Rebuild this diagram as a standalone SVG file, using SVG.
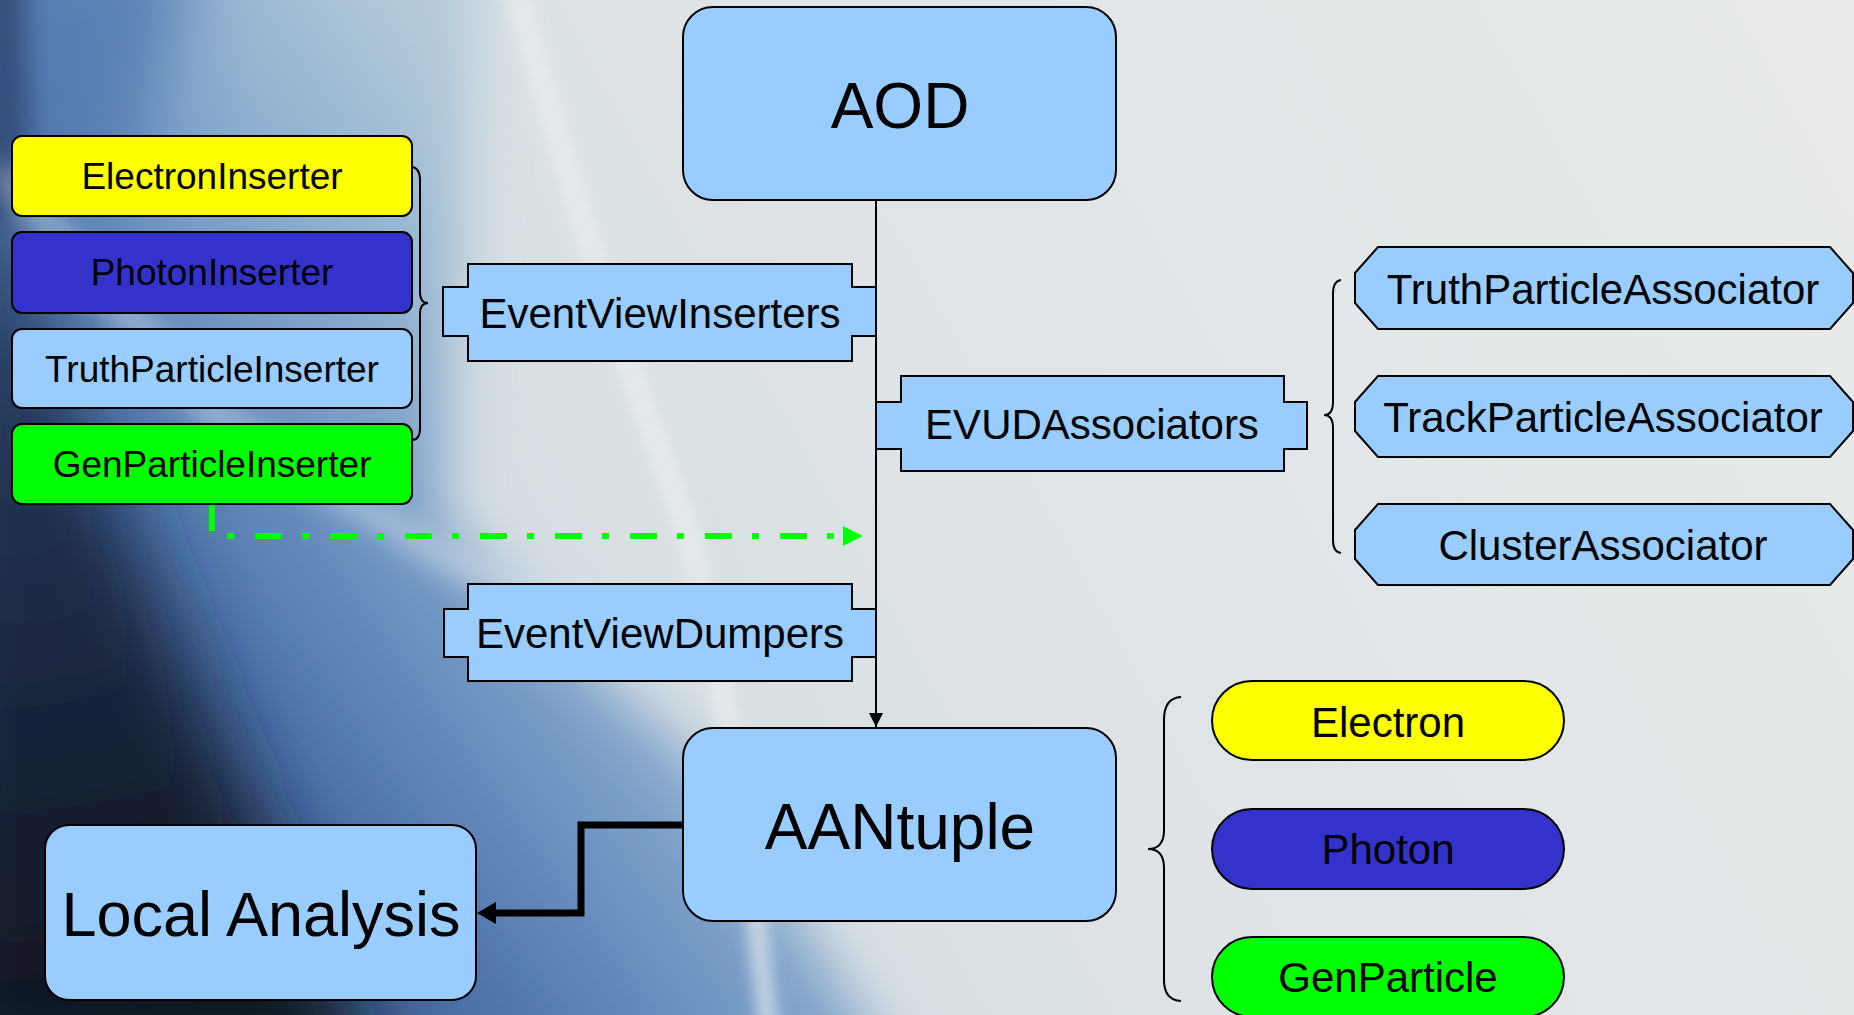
<svg xmlns="http://www.w3.org/2000/svg" width="1854" height="1015" viewBox="0 0 1854 1015">
<style>
.n{stroke:#000;stroke-width:2}
.lb{fill:#99CCFF}
.ye{fill:#FFFF00}
.bl{fill:#3333CC}
.gr{fill:#00FF00}
text{font-family:"Liberation Sans",Arial,sans-serif;fill:#000;text-anchor:middle}
.s{font-size:37px}
.m{font-size:42px}
.b{font-size:64px}
.br{fill:none;stroke:#000;stroke-width:2}
</style>
<defs>
<filter id="blur1" x="-20%" y="-20%" width="140%" height="140%"><feGaussianBlur stdDeviation="28"/></filter>
<filter id="blur2" x="-20%" y="-20%" width="140%" height="140%"><feGaussianBlur stdDeviation="40"/></filter>
<filter id="blur3" x="-50%" y="-10%" width="200%" height="120%"><feGaussianBlur stdDeviation="8"/></filter>
<filter id="blur4" x="-20%" y="-20%" width="140%" height="140%"><feGaussianBlur stdDeviation="14"/></filter>
<filter id="blur5" x="-30%" y="-30%" width="160%" height="160%"><feGaussianBlur stdDeviation="35"/></filter>
<linearGradient id="bgbase" x1="0" y1="1015" x2="1854" y2="0" gradientUnits="userSpaceOnUse">
<stop offset="0" stop-color="#c9d5dd"/>
<stop offset="0.5" stop-color="#dde3e6"/>
<stop offset="1" stop-color="#e9ebeb"/>
</linearGradient>
<linearGradient id="bluereg" x1="0" y1="800" x2="700" y2="300" gradientUnits="userSpaceOnUse">
<stop offset="0" stop-color="#2e4d80"/>
<stop offset="0.3" stop-color="#4a70a8"/>
<stop offset="0.5" stop-color="#6a90c0"/>
<stop offset="0.7" stop-color="#8eb0d0"/>
<stop offset="0.85" stop-color="#a8c2d6"/>
<stop offset="1" stop-color="#bcd0dc"/>
</linearGradient>
<linearGradient id="darkreg" x1="0" y1="150" x2="150" y2="1015" gradientUnits="userSpaceOnUse">
<stop offset="0" stop-color="#2e4870"/>
<stop offset="0.5" stop-color="#1c2a45"/>
<stop offset="1" stop-color="#10151f"/>
</linearGradient>
<marker id="ah" markerWidth="14" markerHeight="14" refX="14" refY="7" orient="auto" markerUnits="userSpaceOnUse">
<path d="M0,0 L14,7 L0,14 Z" fill="#000"/>
</marker>
</defs>

<g id="background">
<rect x="0" y="0" width="1854" height="1015" fill="url(#bgbase)"/>
<path d="M-60,-60 L485,-60 L455,300 L440,520 L560,640 L700,760 L900,1075 L-60,1075 Z" fill="url(#bluereg)" filter="url(#blur1)"/>
<path d="M-60,-60 L200,-60 L120,200 L-60,300 Z" fill="#5077ae" opacity="0.8" filter="url(#blur5)"/>
<path d="M-60,-60 L25,-60 L30,200 L-60,260 Z" fill="#34507e" filter="url(#blur4)"/>
<path d="M-60,80 L30,300 L140,560 L250,800 L380,1075 L-60,1075 Z" fill="url(#darkreg)" filter="url(#blur2)"/>
<path d="M512,-20 L600,280 L690,540 L740,780 L770,1040" fill="none" stroke="#eef2f3" stroke-width="18" opacity="0.7" filter="url(#blur3)"/>
<path d="M0,170 L220,420 L450,560 L700,660" fill="none" stroke="#dfe8ee" stroke-width="26" opacity="0.5" filter="url(#blur4)"/>
</g>

<g id="connectors">
<line x1="876" y1="200" x2="876" y2="727" stroke="#000" stroke-width="2" marker-end="url(#ah)"/>
<path d="M683,825 L581,825 L581,913 L494,913" fill="none" stroke="#000" stroke-width="7"/>
<path d="M477,913 L496,902 L496,924 Z" fill="#000"/>
<path d="M212,504 L212,536 L843,536" fill="none" stroke="#00FF00" stroke-width="6" stroke-dasharray="27 20 7 21"/>
<path d="M843,526 L863,536 L843,546 Z" fill="#00FF00"/>
</g>

<g id="brace-inserters"><path class="br" d="M412,167 Q420,168 420,180 L420,292 Q420,303 428,303 Q420,303 420,314 L420,428 Q420,440 412,440"/></g>
<g id="brace-associators"><path class="br" d="M1341,280 Q1333,281 1333,294 L1333,402 Q1333,415 1324,415 Q1333,415 1333,428 L1333,540 Q1333,552 1341,553"/></g>
<g id="brace-particles"><path class="br" d="M1181,697 Q1164,698 1164,720 L1164,830 Q1164,849 1148,849 Q1164,849 1164,868 L1164,980 Q1164,1000 1181,1001"/></g>

<g id="aod"><rect class="n lb" x="683" y="7" width="433" height="193" rx="30"/><text class="b" x="900" y="128">AOD</text></g>
<g id="aantuple"><rect class="n lb" x="683" y="728" width="433" height="193" rx="30"/><text class="b" x="900" y="849">AANtuple</text></g>
<g id="localanalysis"><rect class="n lb" x="45" y="825" width="431" height="175" rx="24"/><text class="b" x="261" y="936" style="font-size:63px">Local Analysis</text></g>

<g id="electroninserter"><rect class="n ye" x="12" y="136" width="400" height="80" rx="10"/><text class="s" x="212" y="189">ElectronInserter</text></g>
<g id="photoninserter"><rect class="n bl" x="12" y="232" width="400" height="81" rx="10"/><text class="s" x="212" y="285">PhotonInserter</text></g>
<g id="truthparticleinserter"><rect class="n lb" x="12" y="329" width="400" height="79" rx="10"/><text class="s" x="212" y="382">TruthParticleInserter</text></g>
<g id="genparticleinserter"><rect class="n gr" x="12" y="424" width="400" height="80" rx="10"/><text class="s" x="212" y="477">GenParticleInserter</text></g>

<g id="eventviewinserters"><path class="n lb" d="M468,264 L852,264 L852,287 L876,287 L876,336 L852,336 L852,361 L468,361 L468,336 L443,336 L443,287 L468,287 Z"/><text class="m" x="660" y="328">EventViewInserters</text></g>
<g id="evudassociators"><path class="n lb" d="M901,376 L1284,376 L1284,402 L1307,402 L1307,449 L1284,449 L1284,471 L901,471 L901,449 L876,449 L876,402 L901,402 Z"/><text class="m" x="1092" y="439">EVUDAssociators</text></g>
<g id="eventviewdumpers"><path class="n lb" d="M468,584 L852,584 L852,609 L876,609 L876,657 L852,657 L852,681 L468,681 L468,657 L444,657 L444,609 L468,609 Z"/><text class="m" x="660" y="648">EventViewDumpers</text></g>

<g id="truthparticleassociator"><polygon class="n lb" points="1378,247 1830,247 1853,273 1853,303 1830,329 1378,329 1355,303 1355,273"/><text class="m" x="1603" y="304">TruthParticleAssociator</text></g>
<g id="trackparticleassociator"><polygon class="n lb" points="1378,376 1830,376 1853,402 1853,431 1830,457 1378,457 1355,431 1355,402"/><text class="m" x="1603" y="432">TrackParticleAssociator</text></g>
<g id="clusterassociator"><polygon class="n lb" points="1378,504 1830,504 1853,530 1853,559 1830,585 1378,585 1355,559 1355,530"/><text class="m" x="1603" y="560">ClusterAssociator</text></g>

<g id="electron"><rect class="n ye" x="1212" y="681" width="352" height="79" rx="40"/><text class="m" x="1388" y="737">Electron</text></g>
<g id="photon"><rect class="n bl" x="1212" y="809" width="352" height="80" rx="40"/><text class="m" x="1388" y="864">Photon</text></g>
<g id="genparticle"><rect class="n gr" x="1212" y="937" width="352" height="80" rx="40"/><text class="m" x="1388" y="992">GenParticle</text></g>
</svg>
